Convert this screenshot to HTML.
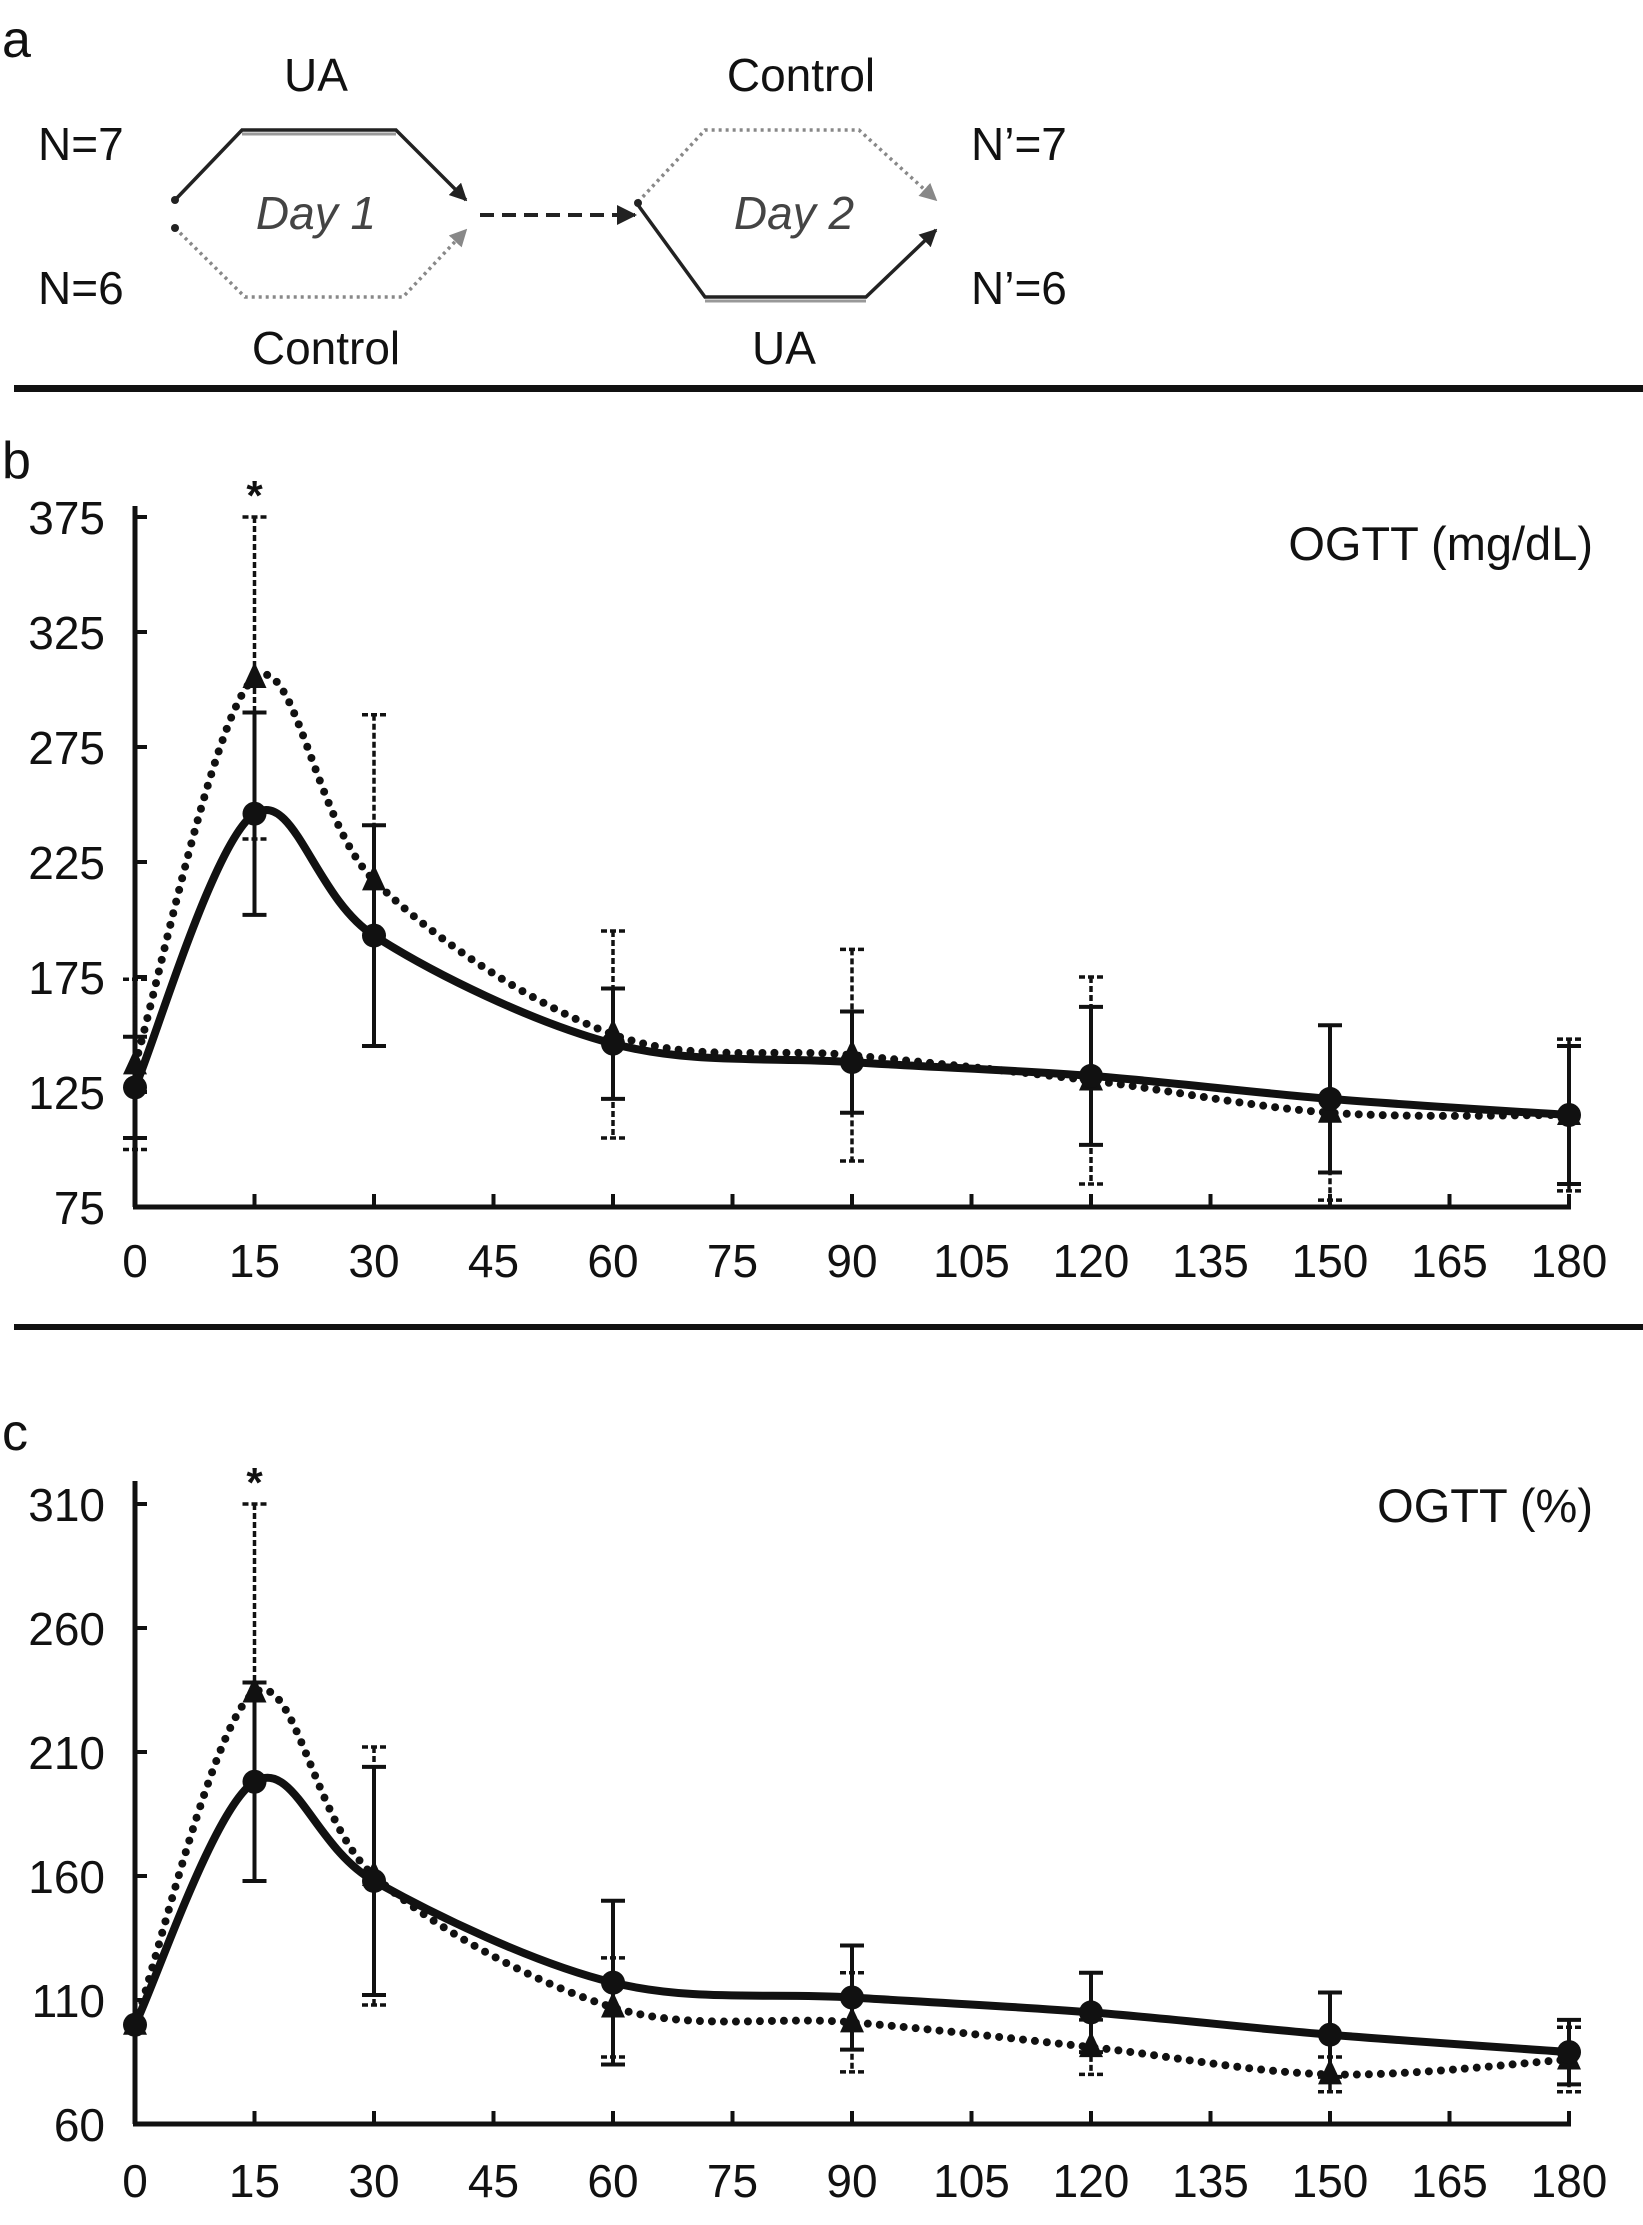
<!DOCTYPE html>
<html><head><meta charset="utf-8">
<style>
html,body{margin:0;padding:0;background:#fff;}
body{width:1643px;height:2220px;overflow:hidden;font-family:"Liberation Sans",sans-serif;}
svg text{font-family:"Liberation Sans",sans-serif;fill:#111;}
</style></head>
<body>
<svg id="fig" width="1643" height="2220" viewBox="0 0 1643 2220" xmlns="http://www.w3.org/2000/svg">
  <g>
    <text x="2" y="57" font-size="52">a</text>
    <text x="316" y="91" font-size="46" text-anchor="middle">UA</text>
    <text x="801" y="91" font-size="46" text-anchor="middle">Control</text>
    <text x="326" y="364" font-size="46" text-anchor="middle">Control</text>
    <text x="784" y="364" font-size="46" text-anchor="middle">UA</text>
    <text x="38" y="160" font-size="46">N=7</text>
    <text x="38" y="304" font-size="46">N=6</text>
    <text x="971" y="160" font-size="46">N’=7</text>
    <text x="971" y="304" font-size="46">N’=6</text>
    <text x="316" y="229" font-size="46" font-style="italic" text-anchor="middle" style="fill:#444">Day 1</text>
    <text x="794" y="229" font-size="46" font-style="italic" text-anchor="middle" style="fill:#444">Day 2</text>
    <defs>
      <marker id="ah" viewBox="0 0 10 10" refX="9" refY="5" markerWidth="5" markerHeight="5" orient="auto"><path d="M0,0 L10,5 L0,10 z" fill="#222"/></marker>
      <marker id="ahg" viewBox="0 0 10 10" refX="9" refY="5" markerWidth="5" markerHeight="5" orient="auto"><path d="M0,0 L10,5 L0,10 z" fill="#888"/></marker>
    </defs>
    <path d="M175,200 L242,130 L396,130 L466,200" fill="none" stroke="#222" stroke-width="3.5" marker-end="url(#ah)"/>
    <path d="M242,134 L396,134" stroke="#999" stroke-width="3"/>
    <path d="M175,228 L245,297 L403,297 L466,230" fill="none" stroke="#888" stroke-width="3.5" stroke-dasharray="3 4" marker-end="url(#ahg)"/>
    <circle cx="175" cy="200" r="4" fill="#222"/><circle cx="175" cy="228" r="4" fill="#222"/>
    <path d="M480,215 L635,215" stroke="#222" stroke-width="4" stroke-dasharray="14 8" marker-end="url(#ah)"/>
    <path d="M638,202 L705,130 L859,130 L936,200" fill="none" stroke="#888" stroke-width="3.5" stroke-dasharray="3 4" marker-end="url(#ahg)"/>
    <path d="M638,205 L705,297 L866,297 L936,230" fill="none" stroke="#222" stroke-width="3.5" marker-end="url(#ah)"/>
    <path d="M705,301 L866,301" stroke="#999" stroke-width="3"/>
    <circle cx="638" cy="203" r="4" fill="#222"/>
  </g>
  <rect x="14" y="385" width="1629" height="7" fill="#111"/>
  <rect x="14" y="1324" width="1629" height="6" fill="#111"/>
  <text x="2" y="478" font-size="52">b</text>
  <text x="2" y="1450" font-size="52">c</text>
  <g id="chartB"></g>
  <g id="chartC"></g>
</svg>
<script>
const xTimes = [0, 15, 30, 60, 90, 120, 150, 180];
const xTickLabels = [0, 15, 30, 45, 60, 75, 90, 105, 120, 135, 150, 165, 180];
const bYTicks = [75, 125, 175, 225, 275, 325, 375];
const bSolid = [127, 246, 193, 146, 138, 132, 122, 115];
const bSolidErr = [22, 44, 48, 24, 22, 30, 32, 30];
const bDotted = [137, 305, 217, 150, 141, 130, 116, 115];
const bDottedErr = [37, 70, 72, 45, 46, 45, 38, 33];
const cYTicks = [60, 110, 160, 210, 260, 310];
const cSolid = [100, 198, 158, 117, 111, 105, 96, 89];
const cSolidErr = [0, 40, 46, 33, 21, 16, 17, 13];
const cDotted = [100, 234, 160, 107, 101, 91, 80, 86];
const cDottedErr = [0, 76, 52, 20, 20, 11, 7, 13];

const NS = "http://www.w3.org/2000/svg";
function mk(tag, attrs, parent) {
  const e = document.createElementNS(NS, tag);
  for (const k in attrs) e.setAttribute(k, attrs[k]);
  parent.appendChild(e);
  return e;
}
function smoothPath(pts) {
  let d = "M" + pts[0][0] + "," + pts[0][1];
  const t = 1 / 3;
  for (let i = 0; i < pts.length - 1; i++) {
    const p0 = pts[Math.max(0, i - 1)], p1 = pts[i], p2 = pts[i + 1], p3 = pts[Math.min(pts.length - 1, i + 2)];
    const c1x = p1[0] + (p2[0] - p0[0]) * t / 2, c1y = p1[1] + (p2[1] - p0[1]) * t / 2;
    const c2x = p2[0] - (p3[0] - p1[0]) * t / 2, c2y = p2[1] - (p3[1] - p1[1]) * t / 2;
    d += " C" + c1x + "," + c1y + " " + c2x + "," + c2y + " " + p2[0] + "," + p2[1];
  }
  return d;
}
function drawChart(gid, cfg) {
  const g = document.getElementById(gid);
  const X0 = 135, X1 = 1569;
  const xs = v => X0 + (v / 180) * (X1 - X0);
  const ys = v => cfg.yBottom - (v - cfg.yMin) / (cfg.yMax - cfg.yMin) * (cfg.yBottom - cfg.yTop);
  const yAxis = mk("line", {x1: X0, y1: cfg.axisTop, x2: X0, y2: cfg.yBottom, stroke: "#111", "stroke-width": 5}, g);
  
  
  const xAxis = mk("line", {x1: X0 - 2, y1: cfg.yBottom, x2: X1 + 2, y2: cfg.yBottom, stroke: "#111", "stroke-width": 5}, g);
  
  
  cfg.yTicks.forEach(v => {
    const t = mk("line", {x1: X0, y1: ys(v), x2: X0 + 12, y2: ys(v), stroke: "#111", "stroke-width": 4}, g);
    
    
    const l = mk("text", {x: 105, y: ys(v) + 17, "font-size": 46, "text-anchor": "end"}, g);
    l.textContent = v;
    
    
  });
  xTickLabels.forEach(v => {
    const t = mk("line", {x1: xs(v), y1: cfg.yBottom, x2: xs(v), y2: cfg.yBottom - 13, stroke: "#111", "stroke-width": 4}, g);
    
    
    const l = mk("text", {x: xs(v), y: cfg.yBottom + cfg.xLabelDy, "font-size": 46, "text-anchor": "middle"}, g);
    l.textContent = v;
    
    
  });
  const title = mk("text", {x: 1593, y: cfg.titleY, "font-size": 47, "text-anchor": "end"}, g);
  title.textContent = cfg.title;
  
  
  function bars(vals, errs, dashed, name) {
    vals.forEach((v, i) => {
      if (!errs[i]) return;
      const x = xs(xTimes[i]), yt = ys(v + errs[i]), yb = ys(v - errs[i]);
      const b = mk("path", {d: `M${x},${yt} L${x},${yb} M${x-12},${yt} L${x+12},${yt} M${x-12},${yb} L${x+12},${yb}`, stroke: "#111", "stroke-width": dashed ? 3.5 : 4, fill: "none"}, g);
      if (dashed) b.setAttribute("stroke-dasharray", "6 3");
      
      
    });
  }
  bars(cfg.dotted, cfg.dottedErr, true, 'error-bar-dotted');
  bars(cfg.solid, cfg.solidErr, false, 'error-bar-solid');
  const dPts = cfg.dotted.map((v, i) => [xs(xTimes[i]), ys(v)]);
  const sPts = cfg.solid.map((v, i) => [xs(xTimes[i]), ys(v)]);
  const dl = mk("path", {d: smoothPath(dPts), fill: "none", stroke: "#111", "stroke-width": 8, "stroke-linecap": "round", "stroke-dasharray": "0 12"}, g);
  
  
  const sl = mk("path", {d: smoothPath(sPts), fill: "none", stroke: "#111", "stroke-width": 8}, g);
  
  
  dPts.forEach(p => {
    const tri = mk("path", {d: `M${p[0]},${p[1]-16} L${p[0]+12},${p[1]+10} L${p[0]-12},${p[1]+10} Z`, fill: "#111"}, g);
    
    
  });
  sPts.forEach(p => {
    const c = mk("circle", {cx: p[0], cy: p[1], r: 12, fill: "#111"}, g);
    
    
  });
  const star = mk("text", {x: xs(15), y: cfg.starY, "font-size": 42, "font-weight": "bold", "text-anchor": "middle"}, g);
  star.textContent = "*";
  
  
}
drawChart("chartB", {yMin: 75, yMax: 375, yBottom: 1207, yTop: 517, axisTop: 506, yTicks: bYTicks,
  solid: bSolid, solidErr: bSolidErr, dotted: bDotted, dottedErr: bDottedErr,
  title: "OGTT (mg/dL)", titleY: 560, xLabelDy: 70, starY: 510});
drawChart("chartC", {yMin: 60, yMax: 310, yBottom: 2124, yTop: 1504, axisTop: 1481, yTicks: cYTicks,
  solid: cSolid, solidErr: cSolidErr, dotted: cDotted, dottedErr: cDottedErr,
  title: "OGTT (%)", titleY: 1522, xLabelDy: 73, starY: 1497});
</script>
</body></html>
